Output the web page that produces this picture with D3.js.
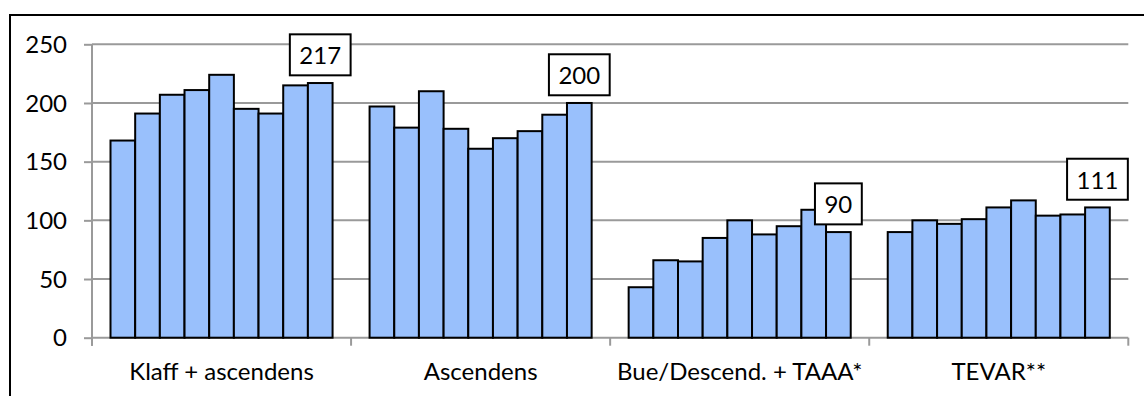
<!DOCTYPE html>
<html>
<head>
<meta charset="utf-8">
<script src="https://cdn.jsdelivr.net/npm/d3@7"></script>
<style>
  html, body { margin: 0; padding: 0; background: #fff; }
  svg { display: block; }
  text { font-family: Lato, "Open Sans", sans-serif; fill: #000; }
</style>
</head>
<body>
<svg id="chart" width="1144" height="396"></svg>
<script>
// ---- data ----
const categories = ["Klaff + ascendens", "Ascendens", "Bue/Descend. + TAAA*", "TEVAR**"];
const series = ["s1", "s2", "s3", "s4", "s5", "s6", "s7", "s8", "s9"];
const klaffAscendens = [168, 191, 207, 211, 224, 195, 191, 215, 217];
const ascendens      = [197, 179, 210, 178, 161, 170, 176, 190, 200];
const bueDescend     = [43, 66, 65, 85, 100, 88, 95, 109, 90];
const tevar          = [90, 100, 97, 101, 111, 117, 104, 105, 111];
const yTicks = [0, 50, 100, 150, 200, 250];

const groups = [klaffAscendens, ascendens, bueDescend, tevar];

// ---- layout ----
const svg = d3.select("#chart");
const plotLeft = 92, plotRight = 1128.3, plotTop = 44.3, plotBottom = 337.7;

const x0 = d3.scaleBand().domain(categories).range([plotLeft, plotRight]).paddingInner(0).paddingOuter(0);
const x1 = d3.scaleBand().domain(series).range([0, x0.bandwidth()]).paddingInner(0).paddingOuter(0.75);
const y = d3.scaleLinear().domain([0, 250]).range([plotBottom, plotTop]);

// outer border
svg.append("rect")
  .attr("x", 10).attr("y", 15).attr("width", 1200).attr("height", 500)
  .attr("fill", "none").attr("stroke", "#000").attr("stroke-width", 2);

const gridColor = "#9a9a9a";

// gridlines + y axis
const yAxis = d3.axisLeft(y).tickValues(yTicks).tickSize(8).tickPadding(17).tickFormat(d3.format("d"));
const gy = svg.append("g").attr("transform", `translate(${plotLeft},0)`).call(yAxis);
gy.select(".domain").attr("stroke", gridColor).attr("stroke-width", 2).attr("d", `M0,${plotTop}V${plotBottom + 8}`);
gy.selectAll(".tick line").attr("stroke", gridColor).attr("stroke-width", 2);
gy.selectAll(".tick text").attr("font-size", 24).attr("dy", "0.34em").style("font-family", "Lato");

svg.append("g").selectAll("line").data(yTicks.filter(d => d > 0)).join("line")
  .attr("x1", plotLeft).attr("x2", plotRight)
  .attr("y1", d => y(d)).attr("y2", d => y(d))
  .attr("stroke", gridColor).attr("stroke-width", 2);

// x axis
const xAxis = d3.axisBottom(x0).tickSize(0).tickPadding(0);
const gx = svg.append("g").attr("transform", `translate(0,${plotBottom})`).call(xAxis);
gx.select(".domain").remove();
gx.selectAll(".tick text").attr("font-size", 24).attr("y", 42).attr("dy", 0).style("font-family", "Lato");
// category boundary ticks
const bounds = categories.map(c => x0(c)).concat([x0(categories[categories.length - 1]) + x0.bandwidth()]);
svg.append("g").selectAll("line").data(bounds).join("line")
  .attr("x1", d => d).attr("x2", d => d).attr("y1", plotBottom).attr("y2", plotBottom + 8)
  .attr("stroke", gridColor).attr("stroke-width", 2);
svg.append("line").attr("x1", plotLeft).attr("x2", plotRight).attr("y1", plotBottom).attr("y2", plotBottom)
  .attr("stroke", gridColor).attr("stroke-width", 2);

// bars
const gBars = svg.append("g");
groups.forEach((vals, gi) => {
  const cat = categories[gi];
  gBars.append("g").selectAll("rect").data(vals).join("rect")
    .attr("x", (d, i) => x0(cat) + x1(series[i]))
    .attr("y", d => y(d))
    .attr("width", x1.bandwidth())
    .attr("height", d => y(0) - y(d))
    .attr("fill", "#99c0fc")
    .attr("stroke", "#000")
    .attr("stroke-width", 2);
});

// value labels on the last bar of each group
groups.forEach((vals, gi) => {
  const cat = categories[gi];
  const last = vals.length - 1;
  const v = vals[last];
  const cx = x0(cat) + x1(series[last]) + x1.bandwidth() / 2;
  const boxBottom = y(v) - 7.7;
  const boxH = 41;
  const g = svg.append("g");
  const rect = g.append("rect");
  const t = g.append("text")
    .attr("x", cx).attr("y", boxBottom - 11)
    .attr("text-anchor", "middle")
    .attr("font-size", 24)
    .text(v);
  const w = t.node().getComputedTextLength() + 19;
  rect.attr("x", cx - w / 2).attr("y", boxBottom - boxH)
    .attr("width", w).attr("height", boxH)
    .attr("fill", "#fff").attr("stroke", "#000").attr("stroke-width", 2);
});
</script>
</body>
</html>
